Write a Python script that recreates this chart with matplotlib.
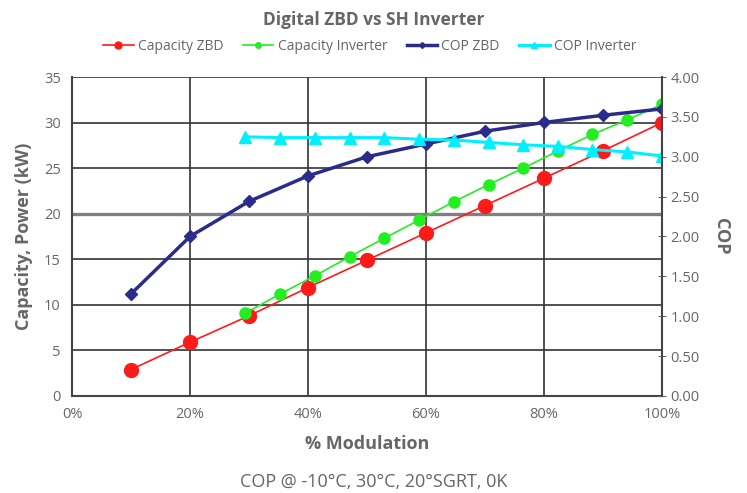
import matplotlib.pyplot as plt
from matplotlib.ticker import PercentFormatter, MultipleLocator

plt.rcParams['font.family'] = ['Open Sans', 'DejaVu Sans']

# Datos
zbd_mod = [10, 20, 30, 40, 50, 60, 70, 80, 90, 100]
cap_zbd = [2.9, 5.9, 8.8, 11.9, 14.9, 17.9, 20.9, 23.9, 26.9, 30.0]
cop_zbd = [1.28, 2.00, 2.44, 2.76, 3.00, 3.16, 3.32, 3.43, 3.52, 3.60]

inv_mod = [29.4, 35.3, 41.2, 47.1, 52.9, 58.8, 64.7, 70.6, 76.5, 82.4, 88.2, 94.1, 100]
cap_inv = [9.1, 11.2, 13.2, 15.3, 17.3, 19.3, 21.3, 23.2, 25.0, 26.9, 28.7, 30.3, 32.0]
cop_inv = [3.25, 3.24, 3.24, 3.24, 3.24, 3.22, 3.21, 3.18, 3.15, 3.13, 3.09, 3.06, 3.01]

grey = '#666666'

fig = plt.figure(figsize=(7.47, 4.93), dpi=100)
ax = fig.add_axes([0.0964, 0.1968, 0.7898, 0.647])
ax2 = ax.twinx()

l1, = ax.plot(zbd_mod, cap_zbd, '-o', color='#ff1a1a', lw=1.2, ms=10, zorder=3)
l2, = ax.plot(inv_mod, cap_inv, '-o', color='#22ee22', lw=1.2, ms=8, zorder=4)
l3, = ax2.plot(zbd_mod, cop_zbd, '-D', color='#2b2b8c', lw=2.5, ms=6)
l4, = ax2.plot(inv_mod, cop_inv, '-^', color='#00f0ff', lw=2.2, ms=8)

ax.set_xlim(0, 100)
ax.set_ylim(0, 35)
ax2.set_ylim(0, 4)
ax.xaxis.set_major_locator(MultipleLocator(20))
ax.xaxis.set_major_formatter(PercentFormatter(decimals=0))
ax.yaxis.set_major_locator(MultipleLocator(5))
ax2.yaxis.set_major_locator(MultipleLocator(0.5))
ax2.yaxis.set_major_formatter(lambda v, p: f'{v:.2f}')

ax.grid(True, color='#333333', lw=1.2)
ax.axhline(20, color='#808080', lw=2.4, zorder=2)

for a in (ax, ax2):
    for s in a.spines.values():
        s.set_visible(False)
    a.tick_params(colors=grey, labelsize=10.5, length=3)
ax.spines['left'].set_visible(True)
ax.spines['bottom'].set_visible(True)
ax2.spines['right'].set_visible(True)
for s in (ax.spines['left'], ax.spines['bottom'], ax2.spines['right']):
    s.set_color('#444444')
    s.set_linewidth(1.5)
ax.tick_params(axis='x', length=0, pad=8)
ax.tick_params(axis='y', length=0, pad=8)
ax2.tick_params(axis='y', direction='inout', length=6, color='#666666', pad=3)

ax.set_xlabel('% Modulation', fontsize=13, fontweight='bold', color=grey, labelpad=9)
ax.set_ylabel('Capacity, Power (kW)', fontsize=13, fontweight='bold', color=grey, labelpad=8)
ax2.set_ylabel('COP', fontsize=13, fontweight='bold', color=grey, rotation=-90, labelpad=22)

fig.text(0.5, 0.96, 'Digital ZBD vs SH Inverter', ha='center', va='center',
         fontsize=12.5, fontweight='bold', color=grey)
fig.legend([l1, l2, l3, l4], ['Capacity ZBD', 'Capacity Inverter', 'COP ZBD', 'COP Inverter'],
           loc='center', bbox_to_anchor=(0.495, 0.905), ncol=4, frameon=False,
           fontsize=10, labelcolor=grey, markerscale=0.5, handlelength=2.2,
           handletextpad=0.3, columnspacing=1.4)
fig.text(0.5, 0.022, 'COP @ -10°C, 30°C, 20°SGRT, 0K', ha='center', va='center',
         fontsize=13, color=grey)

fig.savefig('out.png', dpi=100)
